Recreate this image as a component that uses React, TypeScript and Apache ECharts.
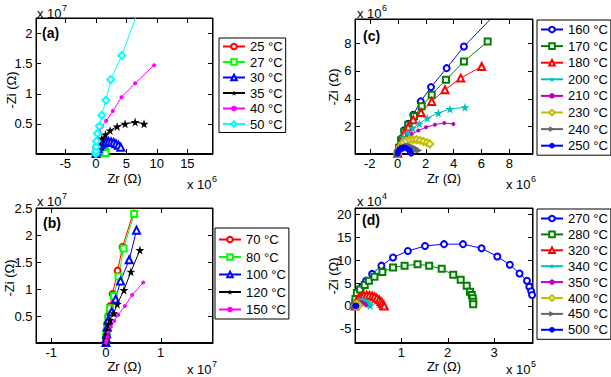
import React, { useEffect, useRef } from 'react';
import * as echarts from 'echarts';

const FONT = 'Liberation Sans, Arial, Helvetica, sans-serif';

// ---------- Panel (a): Zr and -Zi in units of 1e6 ohm ----------
const aNames = ['25 °C', '27 °C', '30 °C', '35 °C', '40 °C', '50 °C'];
const a25 = [[0.02, 0.02], [0.04, 0.06], [0.06, 0.1], [0.09, 0.12], [0.12, 0.12], [0.15, 0.1], [0.17, 0.05]];
const a27 = [[0.3, 0.05], [0.45, 0.3], [0.6, 0.45], [0.75, 0.55], [0.9, 0.6], [1.05, 0.62], [1.2, 0.58], [1.35, 0.5], [1.5, 0.35], [1.6, 0.15]];
const a30 = [[0.05, 0.1], [0.15, 0.5], [0.35, 0.9], [0.6, 1.3], [0.9, 1.6], [1.3, 1.85], [1.7, 2.0], [2.1, 2.05], [2.5, 2.0], [2.9, 1.9], [3.3, 1.7], [3.7, 1.45], [4.1, 1.1]];
const a35 = [[0.0, 0.1], [0.1, 0.8], [0.25, 1.4], [0.5, 2.0], [0.98, 2.54], [1.58, 3.2], [2.34, 3.9], [3.5, 4.56], [4.8, 5.0], [6.44, 5.28], [7.9, 5.0]];
const a40 = [[0.02, 0.1], [0.1, 0.8], [0.2, 1.6], [0.35, 2.6], [0.6, 3.6], [0.98, 4.5], [1.69, 5.5], [2.79, 7.1], [4.21, 9.4], [6.44, 11.7], [9.56, 14.7]];
const a50 = [[0.0, 0.05], [0.02, 0.5], [0.06, 1.2], [0.13, 2.1], [0.26, 3.4], [0.59, 4.6], [0.98, 6.4], [1.64, 8.9], [2.46, 12.3], [4.26, 16.3], [7.0, 23.9]];

// ---------- Panel (b): units of 1e6 ohm ----------
const bNames = ['70 °C', '80 °C', '100 °C', '120 °C', '150 °C'];
const b70 = [[0.0, 0.1], [0.05, 1.0], [0.12, 2.2], [0.25, 3.6], [0.45, 5.0], [0.75, 6.8], [1.22, 9.07], [2.14, 13.4], [3.05, 17.8], [5.3, 25.1]];
const b80 = [[0.0, 0.1], [0.05, 0.9], [0.12, 1.9], [0.22, 3.1], [0.42, 4.57], [0.73, 6.4], [1.46, 8.7], [2.32, 12.3], [3.23, 17.5], [5.17, 23.9]];
const b100 = [[0.0, 0.1], [0.05, 0.8], [0.12, 1.7], [0.25, 2.9], [0.42, 4.26], [1.04, 5.8], [1.77, 8.1], [2.68, 11.5], [4.26, 15.4], [5.6, 20.9]];
const b120 = [[0.0, 0.1], [0.05, 0.7], [0.12, 1.5], [0.25, 2.4], [0.45, 3.3], [0.73, 4.26], [1.46, 5.5], [2.07, 7.2], [3.3, 9.8], [4.57, 13.2], [6.22, 17.2]];
const b150 = [[0.0, 0.05], [0.1, 0.5], [0.25, 1.1], [0.42, 1.9], [0.91, 3.0], [1.52, 4.1], [2.25, 5.2], [3.47, 6.85], [4.8, 8.9], [6.82, 11.2]];

// ---------- Panel (c): units of 1e6 ohm ----------
const cNames = ['160 °C', '170 °C', '180 °C', '200 °C', '210 °C', '230 °C', '240 °C', '250 °C'];
const c160 = [[0.0, 0.05], [0.1, 0.5], [0.25, 1.1], [0.47, 1.71], [0.76, 2.19], [1.12, 2.84], [1.65, 3.8], [2.39, 4.83], [3.51, 6.2], [4.75, 7.76], [7.0, 10.1]];
const c170 = [[0.0, 0.05], [0.1, 0.45], [0.25, 1.0], [0.48, 1.6], [0.76, 2.12], [1.17, 2.72], [1.72, 3.44], [2.44, 4.28], [3.46, 5.36], [4.75, 6.68], [6.45, 8.12]];
const c180 = [[0.0, 0.05], [0.1, 0.45], [0.25, 0.95], [0.45, 1.45], [0.75, 1.95], [1.12, 2.48], [1.67, 3.0], [2.44, 3.8], [3.39, 4.64], [4.52, 5.48], [6.02, 6.32]];
const c200 = [[0.0, 0.05], [0.1, 0.4], [0.22, 0.8], [0.4, 1.2], [0.72, 1.57], [1.07, 1.88], [1.55, 2.19], [2.12, 2.6], [2.91, 2.96], [3.75, 3.25], [4.82, 3.37]];
const c210 = [[0.0, 0.05], [0.1, 0.35], [0.22, 0.65], [0.4, 0.95], [0.65, 1.21], [1.0, 1.45], [1.48, 1.69], [2.03, 1.93], [2.67, 2.12], [3.34, 2.24], [3.99, 2.17]];
const c230 = [[0.0, 0.02], [0.08, 0.3], [0.2, 0.55], [0.38, 0.8], [0.6, 0.95], [0.85, 1.03], [1.1, 1.05], [1.35, 1.03], [1.6, 0.98], [1.85, 0.9], [2.1, 0.82], [2.3, 0.72]];
const c240 = [[0.0, 0.02], [0.08, 0.2], [0.2, 0.35], [0.35, 0.47], [0.52, 0.55], [0.7, 0.58], [0.88, 0.57], [1.05, 0.52], [1.22, 0.45], [1.38, 0.35], [1.5, 0.25]];
const c250 = [[0.0, 0.0], [0.03, 0.15], [0.1, 0.28], [0.2, 0.38], [0.32, 0.44], [0.45, 0.46], [0.58, 0.44], [0.7, 0.38], [0.8, 0.3], [0.88, 0.2], [0.94, 0.1], [0.97, 0.02]];

// ---------- Panel (d): Zr in 1e5 ohm, -Zi in 1e4 ohm ----------
const dNames = ['270 °C', '280 °C', '320 °C', '340 °C', '350 °C', '400 °C', '450 °C', '500 °C'];
const d270 = [[0.0, 0.0], [0.01, 1.2], [0.06, 3.1], [0.15, 4.2], [0.24, 5.5], [0.37, 7.0], [0.57, 8.8], [0.82, 10.6], [1.14, 12.0], [1.51, 13.1], [1.92, 13.5], [2.33, 13.5], [2.73, 12.6], [3.07, 10.8], [3.34, 9.0], [3.55, 7.1], [3.71, 5.5], [3.76, 4.2], [3.80, 3.2], [3.82, 2.4], [3.85, 1.5]];
const d280 = [[0.0, 0.0], [0.01, 1.5], [0.04, 2.8], [0.11, 3.6], [0.21, 4.6], [0.30, 5.5], [0.42, 6.4], [0.59, 7.4], [0.82, 8.4], [1.07, 8.8], [1.35, 9.1], [1.60, 8.8], [1.87, 8.1], [2.12, 6.8], [2.28, 5.7], [2.41, 4.4], [2.48, 3.1], [2.52, 2.4], [2.54, 1.7], [2.55, 0.94], [2.55, 0.37]];
const d320 = [[0.0, 0.0], [0.02, 0.8], [0.05, 1.4], [0.09, 1.8], [0.14, 2.1], [0.19, 2.3], [0.25, 2.35], [0.31, 2.3], [0.37, 2.2], [0.42, 2.0], [0.47, 1.7], [0.52, 1.35], [0.56, 0.95], [0.59, 0.55], [0.62, 0.15], [0.63, 0.0]];
const d340 = [[0.0, 0.0], [0.02, 0.5], [0.05, 0.8], [0.09, 1.0], [0.13, 1.1], [0.17, 1.1], [0.21, 1.0], [0.25, 0.85], [0.28, 0.6], [0.31, 0.35], [0.33, 0.1]];
const d350 = [[0.0, 0.0], [0.02, 0.4], [0.05, 0.65], [0.08, 0.8], [0.11, 0.85], [0.14, 0.8], [0.17, 0.7], [0.2, 0.55], [0.22, 0.35], [0.24, 0.15]];
const d400 = [[0.0, 0.0], [0.01, 0.2], [0.03, 0.3], [0.05, 0.3], [0.07, 0.2], [0.08, 0.05]];
const d450 = [[0.0, 0.0], [0.01, 0.1], [0.02, 0.15], [0.03, 0.1], [0.04, 0.02]];
const d500 = [[0.01, 0.0], [0.02, 0.05], [0.03, 0.0]];

// tick values (in axis display units)
const aXTicks = [-5, 0, 5, 10, 15];
const aYTicks = [0.5, 1, 1.5, 2];
const bXTicks = [-1, 0, 1];
const bYTicks = [0.5, 1, 1.5, 2, 2.5];
const cXTicks = [-2, 0, 2, 4, 6, 8];
const cYTicks = [2, 4, 6, 8];
const dXTicks = [1, 2, 3];
const dYTicks = [-5, 0, 5, 10, 15, 20];

const STAR = 'path://M50,0 L61,35 L98,35 L68,57 L79,91 L50,70 L21,91 L32,57 L2,35 L39,35 Z';
const RTRI = 'path://M0,0 L10,5 L0,10 Z';
const MARK: Record<string, { symbol: string; size: number }> = {
  o: { symbol: 'emptyCircle', size: 6 },
  s: { symbol: 'emptyRect', size: 6 },
  '^': { symbol: 'emptyTriangle', size: 7 },
  p: { symbol: STAR, size: 9 },
  '.': { symbol: 'circle', size: 4 },
  d: { symbol: 'emptyDiamond', size: 7 },
  '>': { symbol: RTRI, size: 7 },
  '*': { symbol: 'circle', size: 6 },
};

const grids = [
  { left: 36, top: 18, width: 177, height: 136 }, // a
  { left: 36, top: 208, width: 177, height: 135 }, // b
  { left: 355, top: 19, width: 178, height: 135 }, // c
  { left: 355, top: 208, width: 178, height: 135 }, // d
];

function fmtNum(v: number) {
  return String(+v.toFixed(3));
}

function buildAxes(g: number, xr: number[], yr: number[]) {
  const common = {
    axisLine: { show: true, onZero: false, lineStyle: { color: '#000', width: 1 } },
    axisTick: { show: false },
    axisLabel: { show: false },
    splitLine: { show: false },
  };
  return {
    xAxes: [{ type: 'value', gridIndex: g, position: 'bottom', min: xr[0], max: xr[1], ...common }],
    yAxes: [{ type: 'value', gridIndex: g, position: 'left', min: yr[0], max: yr[1], ...common }],
  };
}

function mkSeries(g: number, name: string, data: number[][], sx: number, sy: number, color: string, mk: string) {
  const m = MARK[mk];
  return {
    type: 'line',
    name,
    xAxisIndex: g,
    yAxisIndex: g,
    data: data.map(([x, y]) => [x * sx, y * sy]),
    symbol: m.symbol,
    symbolSize: m.size,
    showSymbol: true,
    clip: true,
    color,
    lineStyle: { color, width: 1 },
    itemStyle: { color, borderWidth: 1 },
    emphasis: { disabled: true },
  };
}

function legend(names: string[], left: number, top: number, gap: number, padding: number[]) {
  return {
    data: names,
    orient: 'vertical',
    left,
    top,
    padding,
    itemGap: gap,
    itemWidth: 22,
    itemHeight: 7,
    borderColor: '#000',
    borderWidth: 1,
    backgroundColor: '#fff',
    selectedMode: false,
    textStyle: { fontSize: 13, fontFamily: FONT, color: '#000', lineHeight: 13 },
  };
}

function txt(x: number, y: number, text: string, opts: any = {}) {
  return {
    type: 'text',
    x,
    y,
    rotation: opts.rotation || 0,
    style: {
      text,
      fill: '#000',
      fontSize: opts.fontSize || 13,
      fontFamily: FONT,
      fontWeight: opts.bold ? 'bold' : 'normal',
      align: opts.align || 'center',
      verticalAlign: opts.valign || 'middle',
    },
  };
}

// a 1px-thick axis-aligned bar drawn as a filled rect (frame edges and ticks)
function bar(x1: number, y1: number, x2: number, y2: number) {
  if (y1 === y2) {
    return { type: 'rect', shape: { x: Math.min(x1, x2) - 0.5, y: y1 - 0.5, width: Math.abs(x2 - x1) + 1, height: 1 }, style: { fill: '#000' } };
  }
  return { type: 'rect', shape: { x: x1 - 0.5, y: Math.min(y1, y2) - 0.5, width: 1, height: Math.abs(y2 - y1) + 1 }, style: { fill: '#000' } };
}

function mult(x: number, y: number, exp: string) {
  return [txt(x, y, 'x 10', { align: 'left' }), txt(x + 25, y - 5, exp, { align: 'left', fontSize: 9 })];
}

export default function App() {
  const ref = useRef<HTMLDivElement>(null);
  useEffect(() => {
    if (!ref.current) return;
    const chart = echarts.init(ref.current, null, { renderer: 'svg' });
    const panels = [
      { xr: [-9.8e6, 19.2e6], yr: [0, 2.25e7], xt: aXTicks, yt: aYTicks, xs: 1e6, ys: 1e7 },
      { xr: [-1.28e7, 1.96e7], yr: [0, 2.5e7], xt: bXTicks, yt: bYTicks, xs: 1e7, ys: 1e7 },
      { xr: [-3.06e6, 9.7e6], yr: [0, 9.75e6], xt: cXTicks, yt: cYTicks, xs: 1e6, ys: 1e6 },
      { xr: [0, 3.84e5], yr: [-8.1e4, 21.4e4], xt: dXTicks, yt: dYTicks, xs: 1e5, ys: 1e4 },
    ];
    const axes = panels.map((p, g) => buildAxes(g, p.xr, p.yr));

    const colA = ['#ff0000', '#00ff00', '#0000ff', '#000000', '#ff00ff', '#00ffff'];
    const mkA = ['o', 's', '^', 'p', '.', 'd'];
    const dataA = [a25, a27, a30, a35, a40, a50];
    const colB = ['#ff0000', '#00ff00', '#0000ff', '#000000', '#ff00ff'];
    const mkB = ['o', 's', '^', 'p', '.'];
    const dataB = [b70, b80, b100, b120, b150];
    const colC = ['#0000ff', '#008000', '#ff0000', '#00bfbf', '#bf00bf', '#bfbf00', '#666666', '#0000ff'];
    const mkC = ['o', 's', '^', 'p', '.', 'd', '>', '*'];
    const dataC = [c160, c170, c180, c200, c210, c230, c240, c250];
    const dataD = [d270, d280, d320, d340, d350, d400, d450, d500];

    const series: any[] = [];
    dataA.forEach((d, i) => series.push(mkSeries(0, aNames[i], d, 1e6, 1e6, colA[i], mkA[i])));
    dataB.forEach((d, i) => series.push(mkSeries(1, bNames[i], d, 1e6, 1e6, colB[i], mkB[i])));
    dataC.forEach((d, i) => series.push(mkSeries(2, cNames[i], d, 1e6, 1e6, colC[i], mkC[i])));
    dataD.forEach((d, i) => series.push(mkSeries(3, dNames[i], d, 1e5, 1e4, colC[i], mkC[i])));

    const graphics: any[] = [
      txt(11, 90, '-Zi (Ω)', { rotation: Math.PI / 2 }),
      txt(124.5, 178, 'Zr (Ω)'),
      ...mult(37, 13, '7'),
      ...mult(187, 184, '6'),
      txt(42, 33, '(a)', { bold: true, fontSize: 14, align: 'left' }),

      txt(9, 278, '-Zi (Ω)', { rotation: Math.PI / 2 }),
      txt(124.5, 366, 'Zr (Ω)'),
      ...mult(37, 201, '7'),
      ...mult(187, 369, '7'),
      txt(43, 223, '(b)', { bold: true, fontSize: 14, align: 'left' }),

      txt(333, 87, '-Zi (Ω)', { rotation: Math.PI / 2 }),
      txt(444, 178, 'Zr (Ω)'),
      ...mult(357, 13, '6'),
      ...mult(506, 184, '6'),
      txt(363, 36, '(c)', { bold: true, fontSize: 14, align: 'left' }),

      txt(333, 276, '-Zi (Ω)', { rotation: Math.PI / 2 }),
      txt(444, 366, 'Zr (Ω)'),
      ...mult(357, 201, '4'),
      ...mult(506, 369, '5'),
      txt(362, 220, '(d)', { bold: true, fontSize: 14, align: 'left' }),
    ];

    chart.setOption({
      animation: false,
      grid: grids.map((g) => ({ ...g, containLabel: false, show: true, borderColor: '#000', borderWidth: 1, backgroundColor: 'transparent' })),
      xAxis: axes.flatMap((a) => a.xAxes),
      yAxis: axes.flatMap((a) => a.yAxes),
      legend: [
        legend(aNames, 219, 38, 2.5, [2, 3, 2, 3]),
        legend(bNames, 215, 228, 4.5, [5, 3, 3, 3]),
        legend(cNames, 537, 20, 3.6, [3, 3, 3, 3]),
        legend(dNames, 537, 209, 2.9, [3, 3, 3, 3]),
      ],
      series,
    });

    // Frame, inward ticks and tick labels, placed through the axes' own scales
    const extra: any[] = [];
    const TL = 4;
    panels.forEach((p, g) => {
      const X = (v: number) => chart.convertToPixel({ xAxisIndex: g }, v) as number;
      const Y = (v: number) => chart.convertToPixel({ yAxisIndex: g }, v) as number;
      const L = Math.round(X(p.xr[0])) + 0.5;
      const R = Math.round(X(p.xr[1])) - 0.5;
      const B = Math.round(Y(p.yr[0])) - 0.5;
      const T = Math.round(Y(p.yr[1])) + 0.5;
      extra.push(bar(L, T, R, T), bar(R, T, R, B), bar(L, B, R, B), bar(L, T, L, B));
      p.xt.forEach((v) => {
        const raw = X(v * p.xs);
        extra.push(txt(raw, B + 3, fmtNum(v), { valign: 'top' }));
        const px = Math.round(raw) + 0.5;
        if (px <= L + 1 || px >= R - 1) return;
        extra.push(bar(px, B - TL, px, B), bar(px, T, px, T + TL));
      });
      p.yt.forEach((v) => {
        const raw = Y(v * p.ys);
        extra.push(txt(L - 4, raw, fmtNum(v), { align: 'right' }));
        const py = Math.round(raw) + 0.5;
        if (py <= T + 1 || py >= B - 1) return;
        extra.push(bar(L, py, L + TL, py), bar(R - TL, py, R, py));
      });
    });
    chart.setOption({ graphic: [...graphics, ...extra] });

    return () => chart.dispose();
  }, []);
  return <div ref={ref} style={{ position: 'fixed', left: 0, top: 0, width: 611, height: 377, background: '#fff' }} />;
}
